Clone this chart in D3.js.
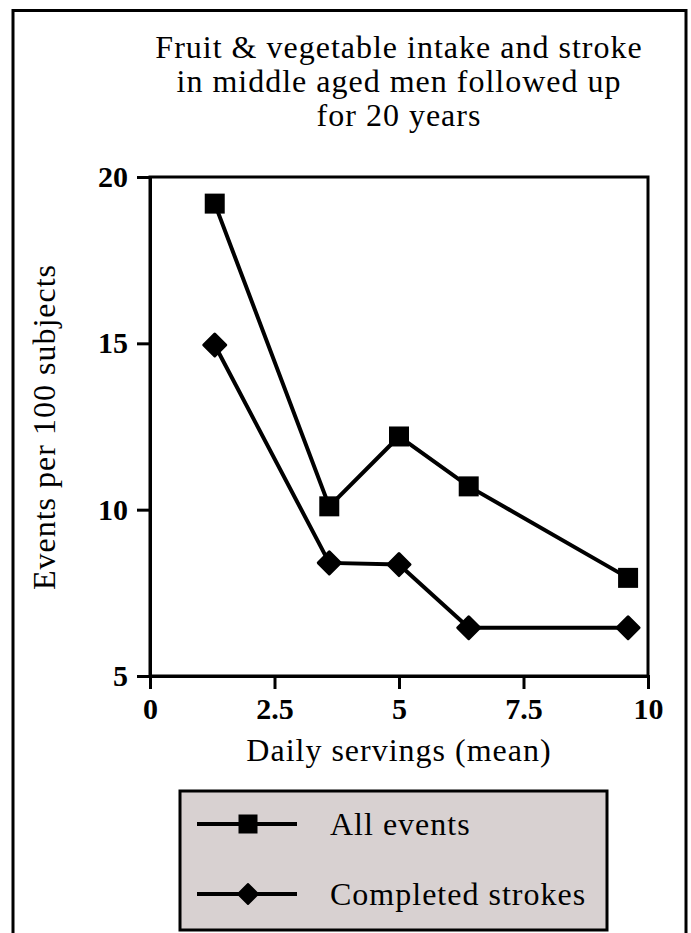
<!DOCTYPE html>
<html>
<head>
<meta charset="utf-8">
<script src="https://cdn.jsdelivr.net/npm/d3@7"></script>
<style>
  body { margin: 0; background: #fff; }
  svg { display: block; }
  text { font-family: "Liberation Serif", "DejaVu Serif", serif; fill: #000; }
</style>
</head>
<body>
<div id="chart"></div>
<script>
// data
const servings = [1.3, 3.6, 5.0, 6.4, 9.6];
const allEvents = [19.2, 10.1, 12.2, 10.7, 7.95];
const completedStrokes = [14.95, 8.4, 8.35, 6.45, 6.45];
const xTicks = [0, 2.5, 5, 7.5, 10];
const yTicks = [5, 10, 15, 20];
const titleLines = ['Fruit & vegetable intake and stroke', 'in middle aged men followed up', 'for 20 years'];
const seriesNames = ['All events', 'Completed strokes'];

const W = 691, H = 933;
const svg = d3.select('#chart').append('svg')
  .attr('width', W)
  .attr('height', H);

// outer frame
svg.append('rect')
  .attr('x', 13).attr('y', 10.5)
  .attr('width', 673).attr('height', 940)
  .attr('fill', 'none').attr('stroke', '#000').attr('stroke-width', 3);

const x = d3.scaleLinear().domain([0, 10]).range([150, 648]);
const y = d3.scaleLinear().domain([5, 20]).range([676, 177]);

// title
svg.append('text')
  .attr('text-anchor', 'middle')
  .attr('font-size', 32)
  .attr('letter-spacing', 1)
  .selectAll('tspan')
  .data(titleLines)
  .enter().append('tspan')
  .attr('x', 399)
  .attr('y', (d, i) => 58 + i * 34)
  .text(d => d);

// plot box
svg.append('rect')
  .attr('x', x(0)).attr('y', y(20))
  .attr('width', x(10) - x(0)).attr('height', y(5) - y(20))
  .attr('fill', 'none').attr('stroke', '#000').attr('stroke-width', 3);

const xAxis = svg.append('g')
  .attr('transform', 'translate(0,' + y(5) + ')')
  .call(d3.axisBottom(x).tickValues(xTicks).tickSize(13).tickPadding(9).tickFormat(d3.format('')));
const yAxis = svg.append('g')
  .attr('transform', 'translate(' + x(0) + ',0)')
  .call(d3.axisLeft(y).tickValues(yTicks).tickSize(13).tickPadding(9));

[xAxis, yAxis].forEach(a => {
  a.select('.domain').attr('stroke-width', 3);
  a.selectAll('.tick line').attr('stroke-width', 3);
  a.selectAll('.tick text')
    .attr('font-family', '"Liberation Serif", serif')
    .attr('font-weight', 'bold')
    .attr('font-size', 30)
    .attr('fill', '#000');
});
xAxis.selectAll('.tick text').attr('dy', '0.71em');

// axis titles
svg.append('text')
  .attr('x', 399).attr('y', 761)
  .attr('text-anchor', 'middle')
  .attr('font-size', 32)
  .attr('letter-spacing', 1)
  .text('Daily servings (mean)');
svg.append('text')
  .attr('transform', 'translate(55,427) rotate(-90)')
  .attr('text-anchor', 'middle')
  .attr('font-size', 32)
  .attr('letter-spacing', 1)
  .text('Events per 100 subjects');

const line = d3.line()
  .x((d, i) => x(servings[i]))
  .y(d => y(d));

const diamond = s => 'M0,' + (-s) + 'L' + s + ',0L0,' + s + 'L' + (-s) + ',0Z';

function drawSeries(vals, shape) {
  svg.append('path')
    .datum(vals)
    .attr('d', line)
    .attr('fill', 'none')
    .attr('stroke', '#000')
    .attr('stroke-width', 4);
  const pts = svg.append('g').selectAll('path')
    .data(vals)
    .enter().append('path')
    .attr('transform', (d, i) => 'translate(' + x(servings[i]) + ',' + y(d) + ')')
    .attr('fill', '#000');
  if (shape === 'square') {
    pts.attr('d', 'M-10,-10H10V10H-10Z');
  } else {
    pts.attr('d', diamond(11))
      .attr('stroke', '#000').attr('stroke-width', 3).attr('stroke-linejoin', 'round');
  }
}
drawSeries(allEvents, 'square');
drawSeries(completedStrokes, 'diamond');

// legend
const lg = svg.append('g');
lg.append('rect')
  .attr('x', 180).attr('y', 791)
  .attr('width', 427).attr('height', 139)
  .attr('fill', '#d8d1d1').attr('stroke', '#000').attr('stroke-width', 3);

const rows = lg.selectAll('g.row')
  .data(seriesNames)
  .enter().append('g')
  .attr('class', 'row')
  .attr('transform', (d, i) => 'translate(0,' + (824 + i * 70) + ')');
rows.append('line')
  .attr('x1', 197).attr('x2', 297)
  .attr('stroke', '#000').attr('stroke-width', 4);
rows.append('path')
  .attr('transform', 'translate(248,0)')
  .attr('d', (d, i) => i === 0 ? 'M-9.5,-9.5H9.5V9.5H-9.5Z' : diamond(10))
  .attr('fill', '#000')
  .attr('stroke', (d, i) => i === 0 ? 'none' : '#000')
  .attr('stroke-width', 2).attr('stroke-linejoin', 'round');
rows.append('text')
  .attr('x', 330).attr('y', 11)
  .attr('font-size', 32)
  .attr('letter-spacing', 1)
  .text(d => d);
</script>
</body>
</html>
